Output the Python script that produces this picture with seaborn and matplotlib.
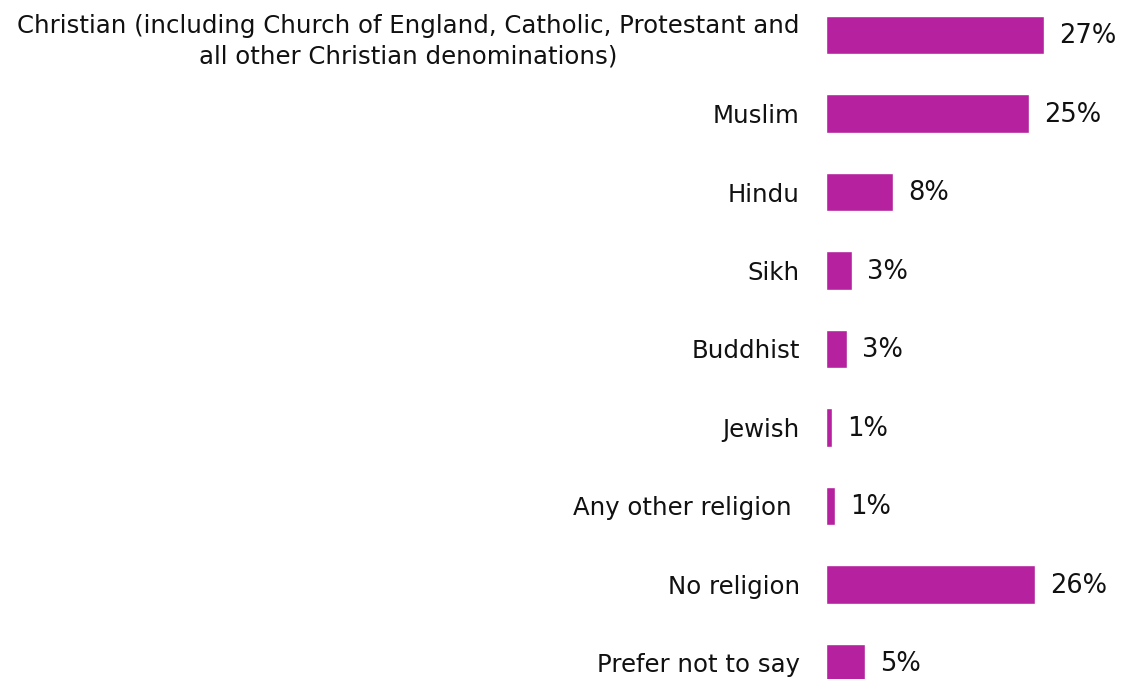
import matplotlib
matplotlib.use("Agg")
import matplotlib.pyplot as plt
import seaborn as sns
import pandas as pd

sns.set_style("white")
plt.rcParams['font.family'] = ['DejaVu Sans']

# Data
religions = [
    "Christian (including Church of England, Catholic, Protestant and\nall other Christian denominations)",
    "Muslim",
    "Hindu",
    "Sikh",
    "Buddhist",
    "Jewish",
    "Any other religion ",
    "No religion",
    "Prefer not to say",
]
shares = [27.0, 25.1, 8.3, 3.2, 2.6, 0.7, 1.1, 25.9, 4.8]
share_labels = ["27%", "25%", "8%", "3%", "3%", "1%", "1%", "26%", "5%"]

df = pd.DataFrame({"religion": religions, "share": shares})

fig = plt.figure(figsize=(11.24, 6.79), dpi=100)
ax = fig.add_axes([0.7349, 0, 0.2651, 1])
sns.barplot(data=df, x="share", y="religion", color="#B5219E",
            width=0.485, saturation=1, ax=ax)

for i, lab in enumerate(share_labels):
    ax.annotate(lab, xy=(shares[i], i), xytext=(11, -1),
                textcoords="offset points", va="center", ha="left",
                fontsize=18.5, color="#111111")

ax.set_xlim(0, 36.9)
ax.set_ylim(8.204, -0.446)
ax.set_xlabel("")
ax.set_ylabel("")
ax.set_xticks([])
ax.tick_params(axis="y", length=0, pad=19, labelsize=17.6, labelcolor="#111111")
for s in ax.spines.values():
    s.set_visible(False)
for t in ax.get_yticklabels():
    t.set_multialignment("center")
    t.set_linespacing(1.35)

fig.savefig("out.png", dpi=100)
